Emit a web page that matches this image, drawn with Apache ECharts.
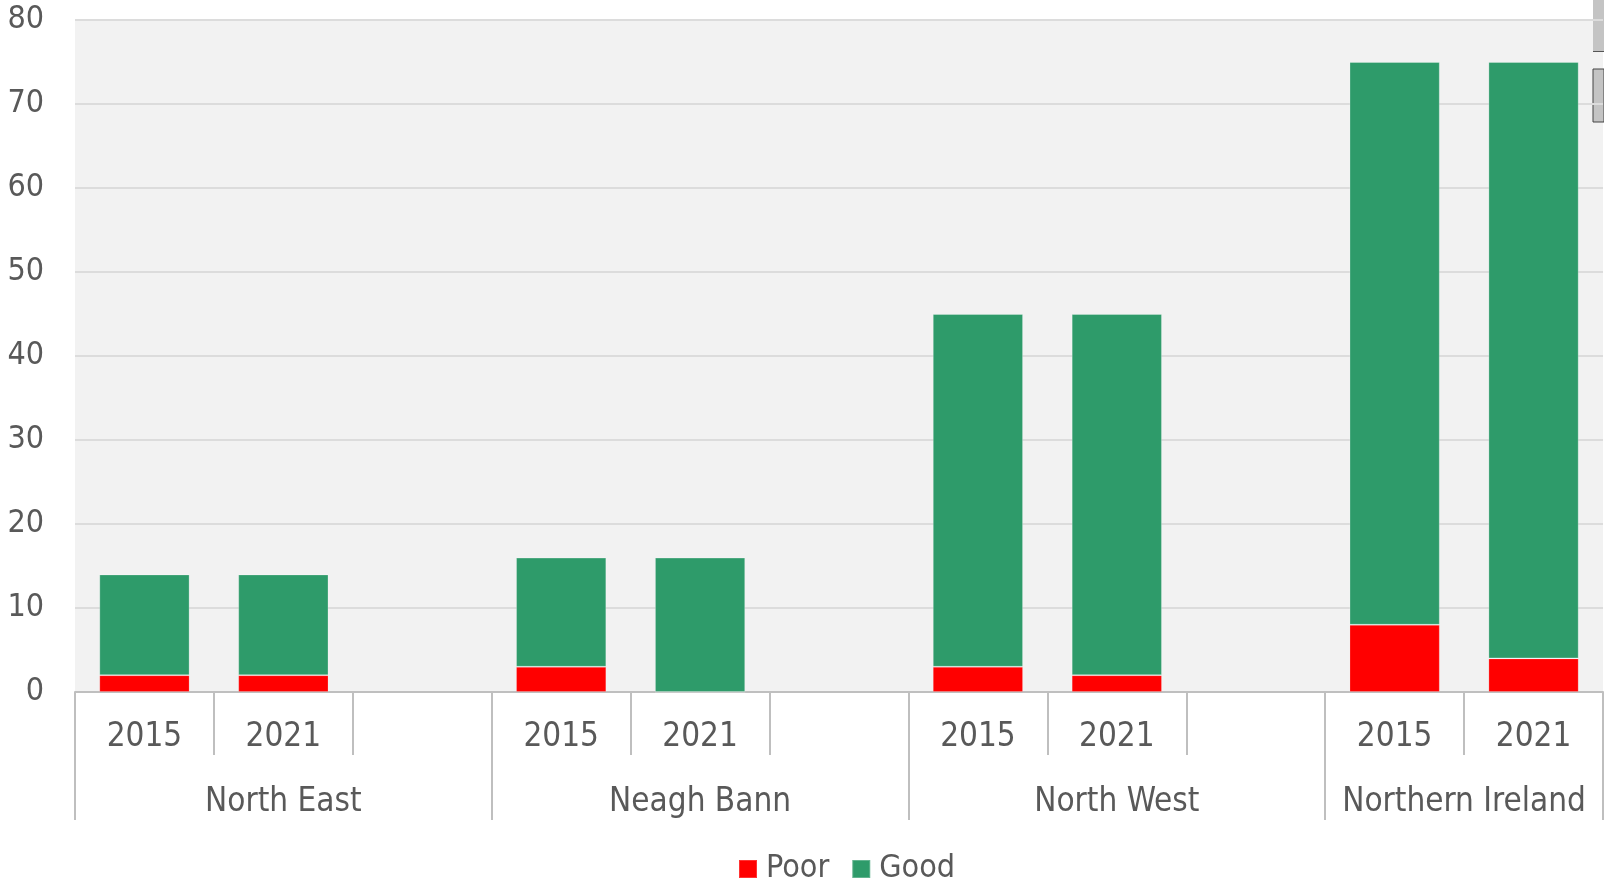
<!DOCTYPE html>
<html>
<head>
<meta charset="utf-8">
<title>Poor / Good</title>
<script src="https://cdn.jsdelivr.net/npm/echarts@6/dist/echarts.min.js"></script>
<style>
  html, body { margin: 0; padding: 0; background: #fff; }
  #container { width: 1604px; height: 886px; }
</style>
</head>
<body>
<div id="container"></div>
<script>
// categories: years inside each region, '' = spacer slot
var years = ['2015', '2021', '', '2015', '2021', '', '2015', '2021', '', '2015', '2021'];
var groups = ['North East', 'Neagh Bann', 'North West', 'Northern Ireland'];
var groupSizes = [3, 3, 3, 2];

// series values
var poor = [2, 2, null, 3, 0, null, 3, 2, null, 8, 4];
var good = [12, 12, null, 13, 16, null, 42, 43, null, 67, 71];

// y axis ticks
var yMin = 0, yMax = 80, yStep = 10;

var textColor = '#595959';
var lineColor = '#BFBFBF';
var font = "'DejaVu Sans Condensed', 'Liberation Sans', sans-serif";

// boundaries and centres of the region groups (in slot units)
var groupEdges = [0];
var groupCenters = [];
for (var i = 0; i < groupSizes.length; i++) {
    var start = groupEdges[groupEdges.length - 1];
    groupCenters.push(start + groupSizes[i] / 2);
    groupEdges.push(start + groupSizes[i]);
}

var dom = document.getElementById('container');
var myChart = echarts.init(dom);

var option = {
    animation: false,
    textStyle: { fontFamily: font },
    grid: {
        left: 75,
        right: 1,
        top: 20,
        height: 672,
        show: true,
        backgroundColor: '#F2F2F2',
        borderWidth: 0
    },
    legend: {
        top: 848,
        left: 733,
        icon: 'rect',
        itemWidth: 18,
        itemHeight: 18,
        itemGap: 22,
        data: ['Poor', 'Good'],
        textStyle: {
            color: textColor,
            fontSize: 32,
            fontFamily: font,
            padding: [0, 0, 0, 4]
        }
    },
    xAxis: [
        {
            type: 'category',
            data: years,
            position: 'bottom',
            axisLine: { show: true, lineStyle: { color: lineColor, width: 2 } },
            axisTick: { show: true, interval: 0, length: 63, lineStyle: { color: lineColor, width: 2 } },
            axisLabel: { interval: 0, margin: 29, color: textColor, fontSize: 33, fontFamily: font },
            splitLine: { show: false }
        },
        {
            type: 'value',
            min: 0,
            max: years.length,
            position: 'bottom',
            axisLine: { show: false },
            axisTick: {
                show: true,
                length: 128,
                customValues: groupEdges,
                lineStyle: { color: lineColor, width: 2 }
            },
            axisLabel: {
                show: true,
                margin: 94,
                customValues: groupCenters,
                color: textColor,
                fontSize: 33,
                fontFamily: font,
                formatter: function (v) {
                    for (var j = 0; j < groupCenters.length; j++) {
                        if (Math.abs(groupCenters[j] - v) < 0.01) return groups[j];
                    }
                    return '';
                }
            },
            splitLine: { show: false }
        }
    ],
    yAxis: {
        type: 'value',
        min: yMin,
        max: yMax,
        interval: yStep,
        axisLine: { show: false },
        axisTick: { show: false },
        axisLabel: { margin: 31, color: textColor, fontSize: 32, fontFamily: font },
        splitLine: { show: true, lineStyle: { color: '#DCDCDC', width: 2 } }
    },
    series: [
        {
            name: 'Poor',
            type: 'bar',
            stack: 'total',
            xAxisIndex: 0,
            barCategoryGap: '35%',
            itemStyle: { color: '#FF0000', borderColor: 'rgba(255,255,255,0.2)', borderWidth: 1 },
            data: poor
        },
        {
            name: 'Good',
            type: 'bar',
            stack: 'total',
            xAxisIndex: 0,
            barCategoryGap: '35%',
            itemStyle: { color: '#2E9B6A', borderColor: 'rgba(255,255,255,0.25)', borderWidth: 1 },
            data: good
        }
    ],
    // scrap of a neighbouring object at the top right edge of the screenshot
    graphic: [
        { type: 'rect', shape: { x: 1593, y: 0, width: 11, height: 51 }, style: { fill: '#C4C4C4' } },
        { type: 'rect', shape: { x: 1593, y: 51, width: 11, height: 1 }, style: { fill: '#555' } },
        { type: 'rect', shape: { x: 1593, y: 69, width: 11, height: 53 }, style: { fill: '#C4C4C4', stroke: '#444', lineWidth: 1 } }
    ]
};

if (option && typeof option === 'object') {
    myChart.setOption(option, true);
}
</script>
</body>
</html>
